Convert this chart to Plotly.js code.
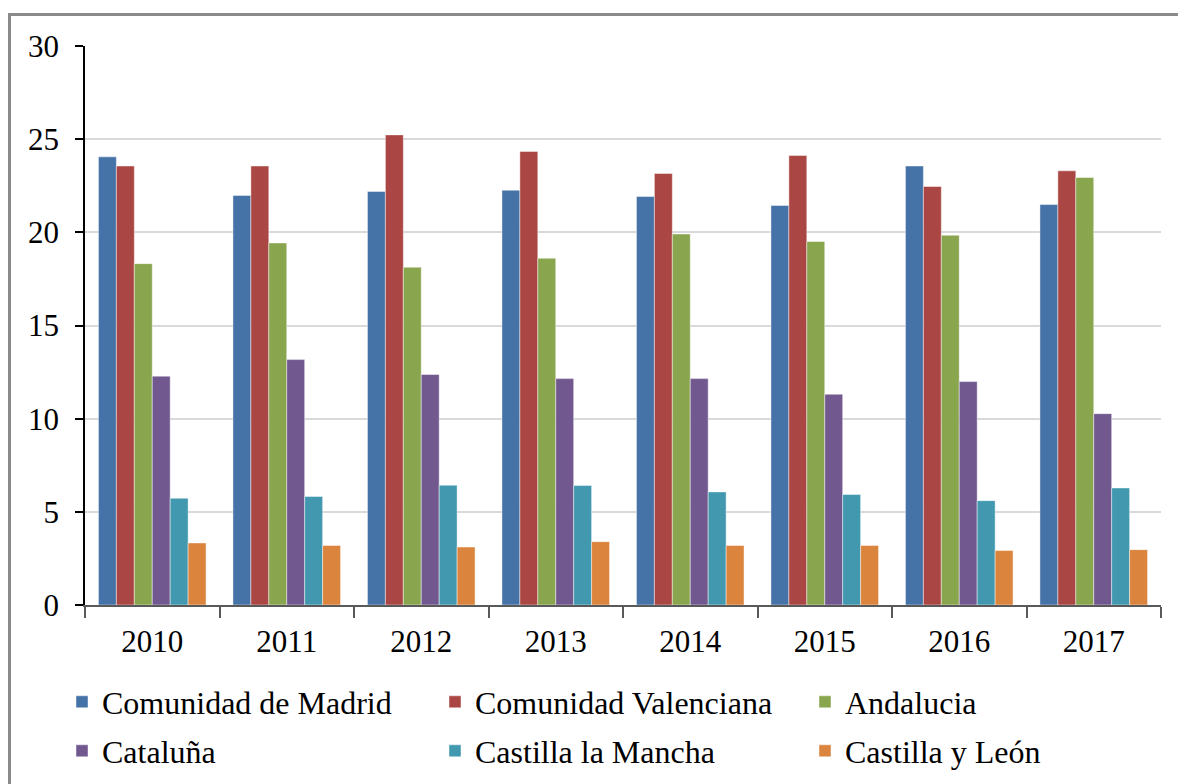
<!DOCTYPE html>
<html>
<head>
<meta charset="utf-8">
<script src="https://cdn.plot.ly/plotly-3.0.1.min.js"></script>
<style>
  html, body { margin: 0; padding: 0; background: #fff; }
  #wrap { position: relative; width: 1178px; height: 784px; overflow: hidden; }
  #chart { width: 1178px; height: 784px; }
  #frame { position: absolute; left: 8px; top: 13px; right: -10px; bottom: -10px;
           border-top: 3px solid #8a8a8a; border-left: 3px solid #8a8a8a; pointer-events: none; }
</style>
</head>
<body>
<div id="wrap">
  <div id="chart"></div>
  <div id="frame"></div>
</div>
<script>
const years = ['2010', '2011', '2012', '2013', '2014', '2015', '2016', '2017'];
const seriesNames = ['Comunidad de Madrid', 'Comunidad Valenciana', 'Andalucia', 'Cataluña', 'Castilla la Mancha', 'Castilla y León'];
const madrid    = [24.05, 21.98, 22.19, 22.26, 21.92, 21.44, 23.56, 21.49];
const valencia  = [23.56, 23.56, 25.23, 24.34, 23.16, 24.12, 22.46, 23.30];
const andalucia = [18.32, 19.43, 18.13, 18.61, 19.91, 19.51, 19.84, 22.94];
const cataluna  = [12.28, 13.17, 12.37, 12.15, 12.15, 11.31, 11.99, 10.27];
const clm       = [5.73, 5.82, 6.43, 6.41, 6.07, 5.93, 5.60, 6.28];
const cyl       = [3.33, 3.19, 3.11, 3.40, 3.19, 3.19, 2.92, 2.97];
const yTicks = [0, 5, 10, 15, 20, 25, 30];

const values = [madrid, valencia, andalucia, cataluna, clm, cyl];
const colors = ['#4572A7', '#AA4643', '#89A54E', '#71588F', '#4198AF', '#DB843D'];

const family = '"Liberation Serif", "Times New Roman", serif';
const font = { family: family, size: 31, color: '#000' };
const legendFont = { family: family, size: 32, color: '#000' };

// legend grid: 3 columns x 2 rows
const legendColX = [62, 435, 805];
const legendRowY = [702, 751];

const legendIds = ['legend', 'legend2', 'legend3', 'legend4', 'legend5', 'legend6'];

const traces = values.map((v, i) => ({
  type: 'bar',
  name: seriesNames[i],
  x: years,
  y: v,
  marker: { color: colors[i], line: { color: 'rgba(255,255,255,0.45)', width: 1 } },
  legend: legendIds[i],
  hoverinfo: 'x+y+name'
}));

const layout = {
  width: 1178, height: 784,
  margin: { l: 85, r: 17, t: 46, b: 179 },
  paper_bgcolor: '#fff', plot_bgcolor: '#fff',
  font: font,
  barmode: 'group',
  bargap: 0.2,
  bargroupgap: 0,
  showlegend: true,
  xaxis: {
    type: 'category',
    tickson: 'boundaries',
    ticks: 'outside', ticklen: 11, tickwidth: 1.5, tickcolor: '#595959',
    showline: true, linecolor: '#595959', linewidth: 1.5,
    showgrid: false, zeroline: false,
    tickfont: font,
    ticklabelstandoff: 8,
    fixedrange: true
  },
  yaxis: {
    range: [0, 30],
    tickvals: yTicks,
    ticktext: yTicks.map(String),
    ticks: 'outside', ticklen: 8, tickwidth: 1.5, tickcolor: '#000',
    showline: true, linecolor: '#000', linewidth: 1.5,
    showgrid: true, gridcolor: '#d9d9d9', gridwidth: 1.5,
    zeroline: false,
    tickfont: font,
    ticklabelstandoff: 10,
    fixedrange: true
  }
};

legendIds.forEach((id, i) => {
  layout[id] = {
    orientation: 'h',
    xref: 'container', yref: 'container',
    x: legendColX[i % 3] / 1178, xanchor: 'left',
    y: 1 - legendRowY[Math.floor(i / 3)] / 784, yanchor: 'middle',
    font: legendFont,
    bgcolor: 'rgba(0,0,0,0)',
    itemclick: false, itemdoubleclick: false
  };
});

Plotly.newPlot('chart', traces, layout, { displayModeBar: false });
</script>
</body>
</html>
